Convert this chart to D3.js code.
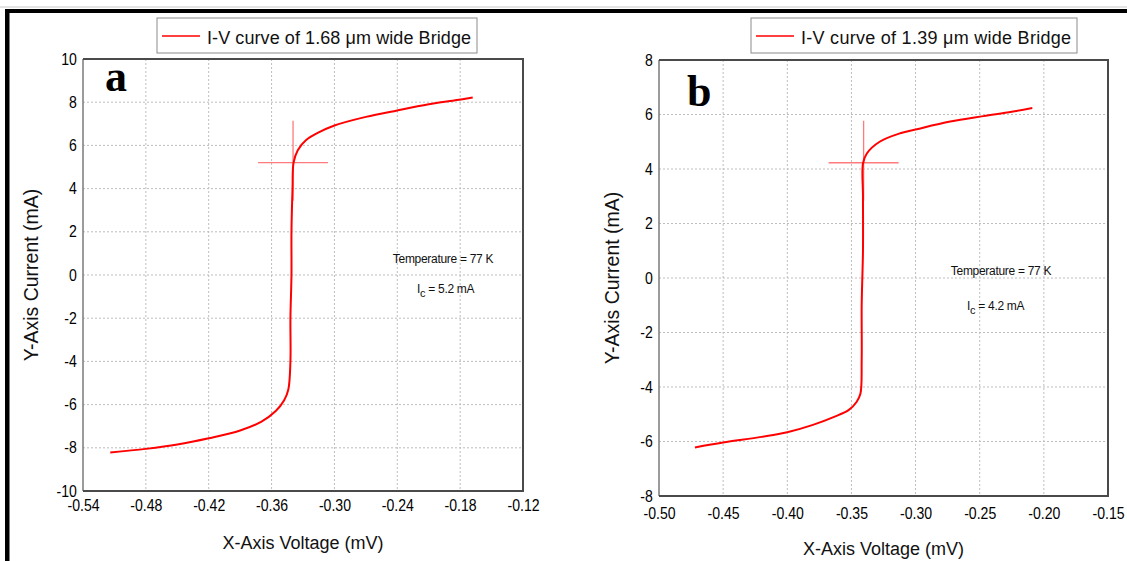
<!DOCTYPE html>
<html>
<head>
<meta charset="utf-8">
<script src="https://cdn.jsdelivr.net/npm/d3@7"></script>
<style>
  body { margin: 0; background: #fff; }
  svg { display: block; font-family: "Liberation Sans", Arial, sans-serif; }
</style>
</head>
<body>
<svg id="chart" width="1127" height="561"></svg>
<script>
// ---- data ----
const voltageA = [-0.514, -0.48, -0.45, -0.42, -0.39, -0.37, -0.356, -0.348, -0.344, -0.342, -0.342, -0.341, -0.341, -0.340, -0.339, -0.335, -0.327, -0.315, -0.30, -0.27, -0.24, -0.21, -0.183, -0.168];
const currentA = [-8.22, -8.05, -7.85, -7.56, -7.2, -6.8, -6.3, -5.8, -5.3, -4.0, -2.0, 0.0, 2.0, 4.0, 5.2, 5.78, 6.25, 6.6, 6.92, 7.32, 7.62, 7.9, 8.1, 8.22];
const voltageB = [-0.472, -0.45, -0.42, -0.40, -0.38, -0.363, -0.352, -0.346, -0.343, -0.342, -0.342, -0.341, -0.341, -0.341, -0.338, -0.328, -0.312, -0.299, -0.273, -0.247, -0.225, -0.209];
const currentB = [-6.22, -6.04, -5.83, -5.66, -5.39, -5.09, -4.84, -4.55, -4.25, -3.0, -1.0, 1.0, 3.0, 4.2, 4.57, 5.0, 5.31, 5.46, 5.74, 5.94, 6.1, 6.24];

const xTicksA = [-0.54, -0.48, -0.42, -0.36, -0.30, -0.24, -0.18, -0.12];
const yTicksA = [-10, -8, -6, -4, -2, 0, 2, 4, 6, 8, 10];
const xTicksB = [-0.50, -0.45, -0.40, -0.35, -0.30, -0.25, -0.20, -0.15];
const yTicksB = [-8, -6, -4, -2, 0, 2, 4, 6, 8];

const criticalA = { v: -0.3395, i: 5.2 };
const criticalB = { v: -0.3405, i: 4.23 };

const legendA = "I-V curve of 1.68 \u03bcm wide Bridge";
const legendB = "I-V curve of 1.39 \u03bcm wide Bridge";
const tempLabel = "Temperature = 77 K";
const icValueA = " = 5.2 mA";
const icValueB = " = 4.2 mA";

const svg = d3.select("svg#chart");
const W = +svg.attr("width");

// outer frame of the figure
svg.append("line").attr("x1", 0).attr("x2", W).attr("y1", 7).attr("y2", 7)
  .attr("stroke", "#c8c8c8").attr("stroke-width", 1);
svg.append("rect").attr("x", 5).attr("y", 9).attr("width", W - 5).attr("height", 4).attr("fill", "#000");
svg.append("rect").attr("x", 5).attr("y", 9).attr("width", 4.5).attr("height", 561 - 9).attr("fill", "#000");

function drawPanel(p) {
  const x = d3.scaleLinear().domain(p.xDomain).range([p.left, p.right]);
  const y = d3.scaleLinear().domain(p.yDomain).range([p.bottom, p.top]);
  const g = svg.append("g");

  // dotted grid
  g.append("g").selectAll("line").data(p.xTicks.slice(1, -1)).join("line")
    .attr("x1", d => x(d)).attr("x2", d => x(d)).attr("y1", p.top).attr("y2", p.bottom)
    .attr("stroke", "#bdbdbd").attr("stroke-dasharray", "2,2");
  g.append("g").selectAll("line").data(p.yTicks.slice(1, -1)).join("line")
    .attr("y1", d => y(d)).attr("y2", d => y(d)).attr("x1", p.left).attr("x2", p.right)
    .attr("stroke", "#bdbdbd").attr("stroke-dasharray", "2,2");

  // axes (labels only)
  const xAxis = g.append("g").attr("transform", `translate(0,${p.bottom})`)
    .call(d3.axisBottom(x).tickValues(p.xTicks).tickSize(0).tickPadding(p.xPad));
  const yAxis = g.append("g").attr("transform", `translate(${p.left},0)`)
    .call(d3.axisLeft(y).tickValues(p.yTicks).tickSize(0).tickPadding(7));
  [xAxis, yAxis].forEach(a => {
    a.select(".domain").remove();
    a.attr("font-size", 16).attr("font-family", "'Liberation Sans', Arial, sans-serif");
    a.selectAll("text").attr("fill", "#000").attr("transform", "scale(0.88,1)");
  });
  xAxis.selectAll("text").text(d => d.toFixed(2));
  yAxis.selectAll("text").text(d => String(d));

  // plot frame
  g.append("line").attr("x1", p.left).attr("x2", p.left).attr("y1", p.top).attr("y2", p.bottom)
    .attr("stroke", "#7a7a7a").attr("stroke-width", 1.5);
  g.append("polyline")
    .attr("points", `${p.left},${p.top} ${p.right},${p.top} ${p.right},${p.bottom} ${p.left},${p.bottom}`)
    .attr("fill", "none").attr("stroke", "#4a4a4a").attr("stroke-width", 2);

  // crosshair at the critical current
  const cx = x(p.crit.v), cy = y(p.crit.i);
  g.append("line").attr("x1", cx - 35).attr("x2", cx + 35).attr("y1", cy).attr("y2", cy)
    .attr("stroke", "#ff7a7a").attr("stroke-width", 1.3);
  g.append("line").attr("x1", cx).attr("x2", cx).attr("y1", cy - 42).attr("y2", cy + 38)
    .attr("stroke", "#ff7a7a").attr("stroke-width", 1.3);

  // I-V curve
  const pts = p.volt.map((v, k) => [v, p.curr[k]]);
  g.append("path").datum(pts)
    .attr("d", d3.line().x(d => x(d[0])).y(d => y(d[1])).curve(d3.curveCatmullRom.alpha(0.5)))
    .attr("fill", "none").attr("stroke", "#ff0000").attr("stroke-width", 2);

  // panel letter
  g.append("text").text(p.letter).attr("x", p.letterX).attr("y", p.letterY)
    .attr("font-family", "'Liberation Serif', 'Times New Roman', serif")
    .attr("font-weight", "bold").attr("font-size", 44).attr("fill", "#000");

  // legend
  g.append("rect").attr("x", p.legX).attr("y", 18).attr("width", p.legW).attr("height", 35)
    .attr("fill", "#fff").attr("stroke", "#8c8c8c").attr("stroke-width", 1);
  g.append("line").attr("x1", p.legX + 5).attr("x2", p.legX + 43).attr("y1", 36).attr("y2", 36)
    .attr("stroke", "#ff0000").attr("stroke-width", 1.6);
  g.append("text").text(p.legend).attr("x", p.legX + 50).attr("y", 44)
    .attr("font-size", 18).attr("fill", "#111").attr("textLength", p.legW - 56);

  // annotation
  g.append("text").text(tempLabel).attr("x", p.noteX).attr("y", p.noteY)
    .attr("text-anchor", "middle").attr("font-size", 12).attr("fill", "#111")
    .attr("letter-spacing", -0.3);
  const ic = g.append("text").attr("x", p.icX).attr("y", p.noteY + p.icGap)
    .attr("font-size", 12).attr("fill", "#111").attr("letter-spacing", -0.3);
  ic.append("tspan").text("I");
  ic.append("tspan").text("c").attr("dy", 4).attr("font-size", 11);
  ic.append("tspan").text(p.icText).attr("dy", -4);

  // axis titles
  g.append("text").text("X-Axis Voltage (mV)")
    .attr("x", (p.left + p.right) / 2).attr("y", p.xTitleY)
    .attr("text-anchor", "middle").attr("font-size", 18).attr("fill", "#111");
  g.append("text").text("Y-Axis Current (mA)")
    .attr("transform", `translate(${p.yTitleX},${(p.top + p.bottom) / 2}) rotate(-90)`)
    .attr("text-anchor", "middle").attr("font-size", 19.5).attr("fill", "#111");
}

drawPanel({
  xDomain: [-0.54, -0.12], yDomain: [-10, 10],
  left: 83, right: 523, top: 59, bottom: 491,
  xTicks: xTicksA, yTicks: yTicksA, xPad: 9,
  volt: voltageA, curr: currentA, crit: criticalA,
  letter: "a", letterX: 105, letterY: 91,
  legend: legendA, legX: 157, legW: 320,
  noteX: 443, noteY: 263, icGap: 30, icX: 417, icText: icValueA,
  xTitleY: 549, yTitleX: 38
});

drawPanel({
  xDomain: [-0.50, -0.15], yDomain: [-8, 8],
  left: 659, right: 1108, top: 60, bottom: 496,
  xTicks: xTicksB, yTicks: yTicksB, xPad: 12,
  volt: voltageB, curr: currentB, crit: criticalB,
  letter: "b", letterX: 687, letterY: 106,
  legend: legendB, legX: 751, legW: 326,
  noteX: 1001, noteY: 275, icGap: 35, icX: 967, icText: icValueB,
  xTitleY: 555, yTitleX: 619
});
</script>
</body>
</html>
